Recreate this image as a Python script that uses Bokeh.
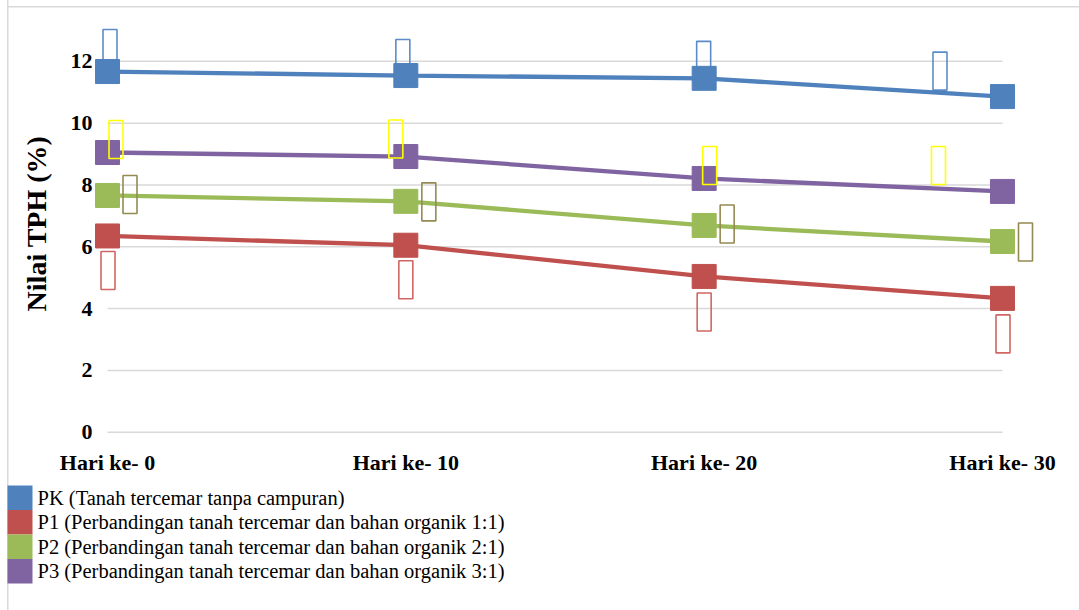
from bokeh.plotting import figure
from bokeh.models import FixedTicker, Range1d
from bokeh.core.properties import value
from bokeh.embed import file_html
from bokeh.resources import INLINE

# --- data -------------------------------------------------------------
DAYS = ["Hari ke- 0", "Hari ke- 10", "Hari ke- 20", "Hari ke- 30"]
PK = [11.67, 11.54, 11.45, 10.86]
P1 = [6.35, 6.05, 5.04, 4.33]
P2 = [7.66, 7.47, 6.69, 6.17]
P3 = [9.05, 8.92, 8.21, 7.79]
Y_TICKS = [0, 2, 4, 6, 8, 10, 12]

LABELS = [
    "PK (Tanah tercemar tanpa campuran)",
    "P1 (Perbandingan tanah tercemar dan bahan organik 1:1)",
    "P2 (Perbandingan tanah tercemar dan bahan organik 2:1)",
    "P3 (Perbandingan tanah tercemar dan bahan organik 3:1)",
]

# --- styling ----------------------------------------------------------
COLORS = ["#4f81bd", "#c0504d", "#9bbb59", "#8064a2"]
TAG_COLORS = ["#5b8cc8", "#cf6663", "#948a54", "#ffff00"]
# pixel offsets (right, up) of each series' annotation box from its marker
TAG_DX = [[2.5, -3, -0.5, -62.5], [0.5, 0, 0, 0.5], [22.5, 23, 23, 23], [8.5, -10, 5.5, -64]]
TAG_DY = [[23, 17, 18, 25.5], [-34.5, -34.5, -35.5, -35.5], [1, -0.5, 1.5, -0.5], [13, 17.5, 13, 26]]

SERIF = "Liberation Serif"
GRID = "#d9d9d9"
W = 1079
BL, BR, BT, BB = 94, 39, 8, 37
FRAME_W, FRAME_H = W - BL - BR, 430
LEGEND_H = 610 - (BT + FRAME_H + BB)
X_RANGE = (-0.0436, 3.1274)
Y_RANGE = (-0.204, 13.71)
PX_X = FRAME_W / (X_RANGE[1] - X_RANGE[0])
PX_Y = FRAME_H / (Y_RANGE[1] - Y_RANGE[0])


def edge_lines(top):
    # light chart-area border: left edge always, top edge optionally
    imgs = ["linear-gradient(%s, %s)" % (GRID, GRID)]
    sizes = ["1.5px 100%"]
    pos = ["7px 0px"]
    if top:
        imgs.append("linear-gradient(%s, %s)" % (GRID, GRID))
        sizes.append("100% 1.5px")
        pos.append("7px 6px")
    return {
        "background-color": "white",
        "background-image": ", ".join(imgs),
        "background-size": ", ".join(sizes),
        "background-position": ", ".join(pos),
        "background-repeat": "no-repeat",
    }


p = figure(frame_width=FRAME_W, frame_height=FRAME_H,
           x_range=X_RANGE, y_range=Y_RANGE,
           output_backend="svg", toolbar_location=None,
           min_border_left=BL, min_border_right=BR,
           min_border_top=BT, min_border_bottom=BB)
p.outline_line_color = None
p.grid.visible = False
p.background_fill_color = "white"
p.border_fill_color = None
p.styles = edge_lines(top=True)

xs = list(range(len(DAYS)))

# horizontal gridlines spanning first to last category
p.segment(x0=[xs[0]] * len(Y_TICKS), x1=[xs[-1]] * len(Y_TICKS),
          y0=Y_TICKS, y1=Y_TICKS, line_color=GRID, line_width=1.5)

series = [PK, P1, P2, P3]


def tag_boxes(i):
    tx = [x + dx / PX_X for x, dx in zip(xs, TAG_DX[i])]
    ty = [y + dy / PX_Y for y, dy in zip(series[i], TAG_DY[i])]
    p.rect(x=tx, y=ty, width=14, height=38, width_units="screen",
           height_units="screen", fill_alpha=0, line_color=TAG_COLORS[i],
           line_width=1.6)


tag_boxes(0)
for vals, col in zip(series, COLORS):
    p.line(xs, vals, line_color=col, line_width=4.3)
    p.scatter(xs, vals, marker="square", size=24, fill_color=col, line_color=col)
for i in range(1, 4):
    tag_boxes(i)

# axes
p.yaxis.ticker = FixedTicker(ticks=Y_TICKS)
p.xaxis.ticker = FixedTicker(ticks=xs)
p.xaxis.major_label_overrides = {i: d for i, d in zip(xs, DAYS)}
for ax in (p.xaxis, p.yaxis):
    ax.axis_line_color = None
    ax.major_tick_line_color = None
    ax.minor_tick_line_color = None
    ax.major_tick_out = 0
    ax.major_tick_in = 0
    ax.major_label_text_font = SERIF
    ax.major_label_text_font_style = "bold"
    ax.major_label_text_font_size = "22px"
    ax.major_label_text_color = "#000000"
p.yaxis.major_label_standoff = 2
p.xaxis.major_label_standoff = 11
p.yaxis.axis_label = "Nilai TPH (%)"
p.yaxis.axis_label_text_font = SERIF
p.yaxis.axis_label_text_font_style = "bold"
p.yaxis.axis_label_text_font_size = "28px"
p.yaxis.axis_label_text_color = "#000000"
p.yaxis.axis_label_standoff = 16

# legend strip under the chart: colour swatches with series names
ROW_H = 24.5
LEG_TOP = 8
leg = figure(width=W, height=LEGEND_H, x_range=Range1d(0, W),
             y_range=Range1d(LEGEND_H, 0), output_backend="svg",
             toolbar_location=None, min_border=0)
leg.axis.visible = False
leg.grid.visible = False
leg.outline_line_color = None
leg.background_fill_color = None
leg.border_fill_color = None
leg.styles = edge_lines(top=False)

rows = list(range(len(LABELS)))
leg.quad(left=[7] * len(rows), right=[32] * len(rows),
         top=[LEG_TOP + ROW_H * r for r in rows],
         bottom=[LEG_TOP + ROW_H * (r + 1) for r in rows],
         fill_color=COLORS, line_color=None)
leg.text(x=[37] * len(rows), y=[LEG_TOP + ROW_H * (r + 0.5) for r in rows],
         text=LABELS, text_font=value("'Liberation Serif', serif"),
         text_font_size="20.5px", text_baseline="middle", text_align="left",
         text_color="#000000")

open("out.html", "w").write(file_html([p, leg], INLINE))
